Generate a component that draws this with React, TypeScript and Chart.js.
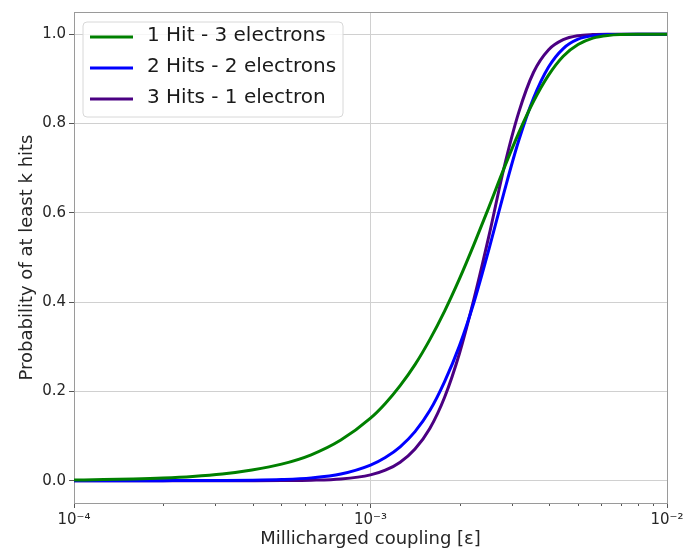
import React, { useEffect, useRef } from 'react';
import { Chart, registerables } from 'chart.js';

Chart.register(...registerables);

// Millicharged coupling values (x axis, log scale)
const couplings = [
  1.0e-4, 1.259e-4, 1.585e-4, 1.995e-4, 2.512e-4, 3.162e-4, 3.981e-4, 5.012e-4, 6.31e-4, 7.943e-4,
  1.0e-3, 1.122e-3, 1.259e-3, 1.413e-3, 1.585e-3, 1.778e-3, 1.995e-3, 2.239e-3, 2.512e-3, 2.818e-3,
  3.162e-3, 3.548e-3, 3.981e-3, 4.467e-3, 5.012e-3, 5.623e-3, 6.31e-3, 7.943e-3, 1.0e-2,
];

const oneHitThreeElectrons = [
  0.0015, 0.0024, 0.0038, 0.006, 0.0095, 0.015, 0.024, 0.037, 0.058, 0.091,
  0.14, 0.173, 0.213, 0.26, 0.316, 0.38, 0.452, 0.531, 0.614, 0.699,
  0.779, 0.85, 0.908, 0.951, 0.977, 0.9915, 0.9975, 1.0, 1.0,
];

const twoHitsTwoElectrons = [
  0.0, 0.0, 0.0, 0.0001, 0.0002, 0.0004, 0.001, 0.0026, 0.0063, 0.015,
  0.035, 0.052, 0.076, 0.11, 0.157, 0.222, 0.302, 0.402, 0.52, 0.645,
  0.762, 0.857, 0.926, 0.968, 0.989, 0.997, 0.9995, 1.0, 1.0,
];

const threeHitsOneElectron = [
  0.0, 0.0, 0.0, 0.0, 0.0, 0.0, 0.0001, 0.0003, 0.001, 0.0038,
  0.013, 0.0235, 0.0415, 0.071, 0.117, 0.187, 0.285, 0.41, 0.55, 0.7,
  0.825, 0.915, 0.965, 0.988, 0.997, 0.9995, 1.0, 1.0, 1.0,
];

const seriesLabels = ['1 Hit - 3 electrons', '2 Hits - 2 electrons', '3 Hits - 1 electron'];
const seriesColors = ['#008000', '#0000ff', '#4b0082'];

const xTickValues = [1e-4, 1e-3, 1e-2];
const xTickLabels = ['10\u207B\u2074', '10\u207B\u00B3', '10\u207B\u00B2'];
const xMinorDecades = [1e-4, 1e-3];
const xMinorMultipliers = [2, 3, 4, 5, 6, 7, 8, 9];
const yTickValues = [0, 0.2, 0.4, 0.6, 0.8, 1.0];

const FONT = '"DejaVu Sans", sans-serif';
const TEXT_COLOR = '#262626';

const framePlugin = {
  id: 'frameAndMinor',
  beforeDatasetsDraw(chart: any) {
    const { ctx, chartArea } = chart;
    const { left, top, right, bottom } = chartArea;
    ctx.save();
    // minor ticks on x axis
    const xs = chart.scales.x;
    ctx.strokeStyle = '#555555';
    ctx.lineWidth = 1;
    for (const d of xMinorDecades) {
      for (const m of xMinorMultipliers) {
        const px = Math.round(xs.getPixelForValue(d * m)) + 0.5;
        ctx.beginPath();
        ctx.moveTo(px, bottom);
        ctx.lineTo(px, bottom + 3);
        ctx.stroke();
      }
    }
    // frame
    ctx.strokeStyle = '#9a9a9a';
    ctx.lineWidth = 1;
    ctx.strokeRect(Math.round(left) + 0.5, Math.round(top) + 0.5, Math.round(right - left), Math.round(bottom - top));
    ctx.restore();
  },
  afterDraw(chart: any) {
    const { ctx, chartArea } = chart;
    const bx = chartArea.left + 9;
    const by = chartArea.top + 10;
    const bw = 260;
    const bh = 95;
    const r = 4;
    ctx.save();
    ctx.beginPath();
    ctx.moveTo(bx + r, by);
    ctx.lineTo(bx + bw - r, by);
    ctx.arcTo(bx + bw, by, bx + bw, by + r, r);
    ctx.lineTo(bx + bw, by + bh - r);
    ctx.arcTo(bx + bw, by + bh, bx + bw - r, by + bh, r);
    ctx.lineTo(bx + r, by + bh);
    ctx.arcTo(bx, by + bh, bx, by + bh - r, r);
    ctx.lineTo(bx, by + r);
    ctx.arcTo(bx, by, bx + r, by, r);
    ctx.closePath();
    ctx.fillStyle = 'rgba(255,255,255,0.8)';
    ctx.fill();
    ctx.strokeStyle = '#d8d8d8';
    ctx.lineWidth = 1;
    ctx.stroke();
    chart.data.datasets.forEach((ds: any, i: number) => {
      const y = by + 15 + i * 31;
      ctx.beginPath();
      ctx.strokeStyle = ds.borderColor;
      ctx.lineWidth = 3;
      ctx.moveTo(bx + 7, y);
      ctx.lineTo(bx + 50, y);
      ctx.stroke();
      ctx.fillStyle = '#1a1a1a';
      ctx.font = `20px ${FONT}`;
      ctx.textBaseline = 'middle';
      ctx.textAlign = 'left';
      ctx.fillText(ds.label, bx + 64, y - 1);
    });
    ctx.restore();
  },
};

export default function App() {
  const ref = useRef<HTMLCanvasElement>(null);
  useEffect(() => {
    document.body.style.margin = '0';
    const series = [oneHitThreeElectrons, twoHitsTwoElectrons, threeHitsOneElectron];
    const chart = new Chart(ref.current as HTMLCanvasElement, {
      type: 'line',
      data: {
        datasets: series.map((vals, i) => ({
          label: seriesLabels[i],
          data: couplings.map((x, j) => ({ x, y: vals[j] })),
          borderColor: seriesColors[i],
          backgroundColor: seriesColors[i],
          borderWidth: 3,
          pointRadius: 0,
          cubicInterpolationMode: 'monotone' as const,
          fill: false,
        })),
      },
      options: {
        responsive: false,
        animation: false,
        layout: { padding: { top: 10, right: 22, left: 0, bottom: 0 } },
        plugins: { legend: { display: false }, tooltip: { enabled: false } },
        scales: {
          x: {
            type: 'logarithmic',
            min: 1e-4,
            max: 1e-2,
            afterBuildTicks: (s: any) => {
              s.ticks = xTickValues.map((v) => ({ value: v }));
            },
            afterFit: (s: any) => {
              s.height = 48;
            },
            ticks: {
              callback: (_v: any, i: number) => xTickLabels[i],
              font: { family: FONT, size: 15 },
              color: TEXT_COLOR,
              maxRotation: 0,
              autoSkip: false,
              padding: 3,
            },
            grid: { color: '#d0d0d0', lineWidth: 1, tickLength: 5, tickColor: '#555555', drawTicks: true },
            border: { display: false },
            title: {
              display: true,
              text: 'Millicharged coupling [ε]',
              font: { family: FONT, size: 18 },
              color: TEXT_COLOR,
              padding: { top: 0, bottom: 1 },
            },
          },
          y: {
            type: 'linear',
            min: -0.05,
            max: 1.05,
            afterBuildTicks: (s: any) => {
              s.ticks = yTickValues.map((v) => ({ value: v }));
            },
            afterFit: (s: any) => {
              s.width = 74;
            },
            ticks: {
              callback: (v: any) => Number(v).toFixed(1),
              font: { family: FONT, size: 15 },
              color: TEXT_COLOR,
              padding: 3,
            },
            grid: { color: '#d0d0d0', lineWidth: 1, tickLength: 5, tickColor: '#555555', drawTicks: true },
            border: { display: false },
            title: {
              display: true,
              text: 'Probability of at least k hits',
              font: { family: FONT, size: 18 },
              color: TEXT_COLOR,
              padding: { top: 17, bottom: 0 },
            },
          },
        },
      } as any,
      plugins: [framePlugin],
    });
    return () => chart.destroy();
  }, []);
  return <canvas ref={ref} width={689} height={551} style={{ display: 'block' }} />;
}
